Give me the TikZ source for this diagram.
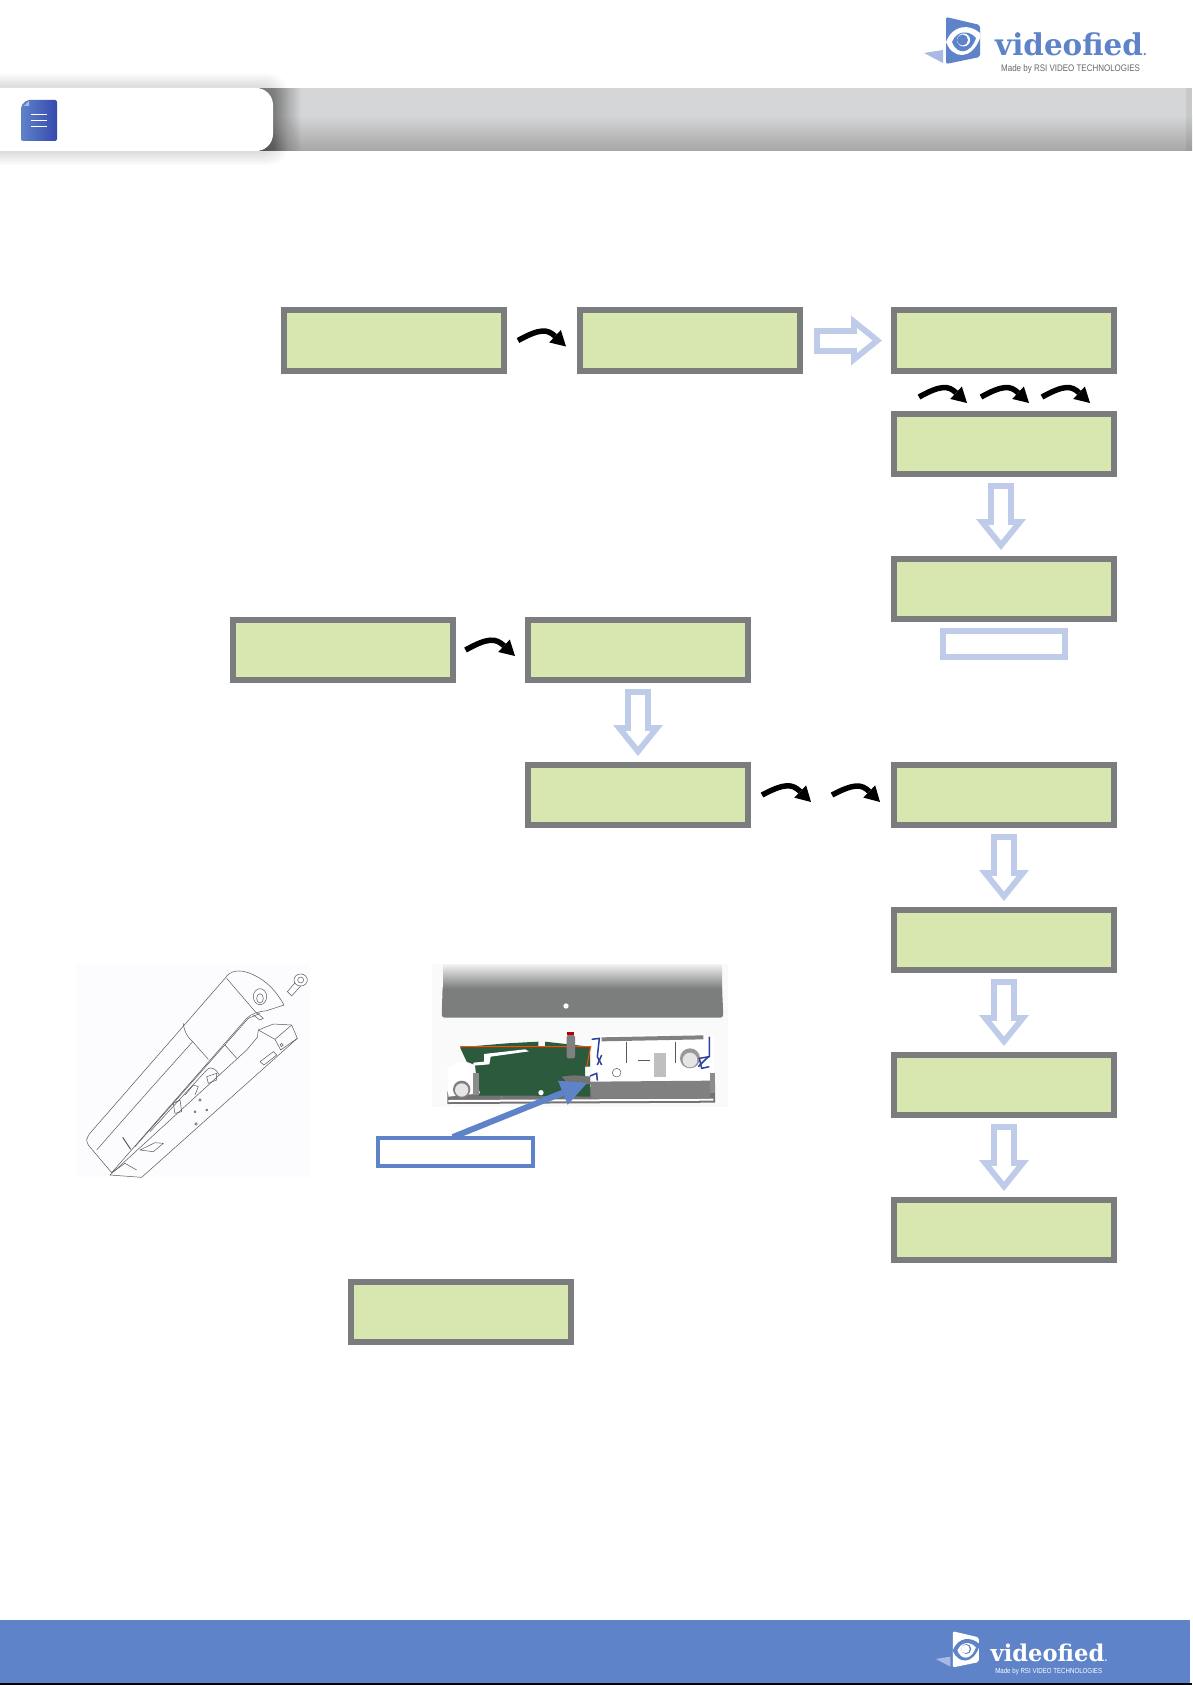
\documentclass[tikz,border=0pt]{standalone}
\usepackage{fontspec}
\usetikzlibrary{arrows.meta}
\newfontfamily\logofont{DejaVu Serif}
\newfontfamily\tagfont{Liberation Sans}
\definecolor{lcdgreen}{HTML}{D8E7B0}
\definecolor{lcdgray}{HTML}{7B7C7D}
\definecolor{flowblue}{HTML}{BFCCE9}
\definecolor{brandblue}{HTML}{5F83C9}
\definecolor{brandlight}{HTML}{A9B9E3}
\definecolor{bandgray}{HTML}{D4D5D7}
\definecolor{banddark}{HTML}{A6A6A6}
\definecolor{coverdark}{HTML}{7C7E7D}
\definecolor{pcbgreen}{HTML}{2B5B3C}
\definecolor{clipblue}{HTML}{2B3F9E}
\tikzset{
  lcd/.style={draw=lcdgray, fill=lcdgreen, line width=6pt, minimum width=220pt, minimum height=60pt},
  bentarrow/.style={line width=5.5pt, black, bend left=36, looseness=1.35, -{Triangle[length=15pt,width=17pt,line width=0pt]}},
  blockouter/.style={flowblue, line width=26pt, -{Triangle[length=31pt,width=50pt,line width=0pt]}},
  blockinner/.style={white, line width=14pt, -{Triangle[length=15.4pt,width=24.8pt,line width=0pt]}},
  sketch/.style={draw=black!65, line width=.5pt, line join=round},
  pics/videologo/.style n args={4}{code={
    \fill[#2] (-21,35) -- (-2,32) -- (-2,45) -- cycle;
    \fill[#1, rounded corners=2pt] (1,-1) -- (35,7) -- (35,39) -- (1,46) -- cycle;
    \fill[#3] (1,24) .. controls (8,6) and (25,6) .. (35,15) -- (35,20) .. controls (27,42) and (8,42) .. (1,24);
    \fill[#1] (7,24) .. controls (12,12) and (24,12) .. (31,20) .. controls (25,37) and (12,37) .. (7,24);
    \fill[#3] (18.5,22) circle (6.5);
    \fill[#1] (17.5,22) circle (5.5);
    \node[anchor=base west, inner sep=0pt, text=#1] (name) at (50,38) {\logofont\bfseries\fontsize{30}{30}\selectfont\scalebox{.98}[1]{videofied{\fontsize{12}{12}\selectfont.}}};
    \node[anchor=base west, inner sep=0pt, text=#4] (tag) at (56,54) {\tagfont\fontsize{9.5}{9.5}\selectfont\scalebox{.84}[1]{Made by RSI VIDEO TECHNOLOGIES}};
  }}
}
\begin{document}
\begin{tikzpicture}[x=1pt, y=-1pt]
\useasboundingbox (0,0) rectangle (1192,1685);
% Header band
\fill[bandgray] (0,88) rectangle (1192,117);
\shade[top color=bandgray, bottom color=banddark] (0,116) rectangle (1192,151);
\fill[black, opacity=.06] (1186,88) rectangle (1192,151);
% Tab with soft shadow
\foreach \r in {14,12,...,2}
  \fill[black, opacity=.02, rounded corners=18pt] (-40,88-\r) rectangle (273+\r,151+\r);
\foreach \r in {1,2,...,28}
  \fill[black, opacity=.012] (260,88) rectangle (273+\r,151);
\fill[white, rounded corners=17pt] (-40,88) rectangle (273,151);
% Document icon
\shade[left color=brandblue, right color=brandblue!70!blue!80!black, rounded corners=2pt] (21,106) -- (27,100) -- (57,100) -- (57,141) -- (21,141) -- cycle;
\fill[brandlight] (24,106) -- (29,101) -- (29,106) -- cycle;
\foreach \y in {114,120,126}
  \draw[white, line width=.8pt] (31,\y) -- (47,\y);
% Logos
\pic (headlogo) at (945,18) {videologo={brandblue}{brandlight}{white}{black!60}};
\fill[brandblue] (0,1620) rectangle (1190,1683);
\fill[black] (0,1683) rectangle (1192,1685);
\pic[scale=.77, transform shape] (footlogo) at (952,1632) {videologo={white}{brandlight}{brandblue}{white}};
% Display boxes
\node[lcd] (boxA) at (394,340.5) {};
\node[lcd] (boxB) at (690,340.5) {};
\node[lcd] (boxC) at (1004,340.5) {};
\node[lcd] (boxD) at (1004,444) {};
\node[lcd] (boxE) at (1004,589) {};
\node[lcd] (boxF) at (342.5,650) {};
\node[lcd] (boxG) at (638,650) {};
\node[lcd] (boxH) at (638,795) {};
\node[lcd] (boxI) at (1004,795) {};
\node[lcd] (boxJ) at (1004,940) {};
\node[lcd] (boxK) at (1004,1085) {};
\node[lcd] (boxL) at (1004,1230) {};
\node[lcd] (boxM) at (461,1312) {};
% Key box under the display
\node[draw=flowblue, fill=white, line width=6pt, minimum width=122pt, minimum height=26pt] (keybox) at (1004,644) {};
% Block arrows
\draw[blockouter, shorten <=11pt, shorten >=9pt] (boxB) -- (boxC);
\draw[blockinner, shorten <=17pt, shorten >=18.6pt] (boxB) -- (boxC);
\draw[blockouter, shorten <=6pt, shorten >=6pt] ([xshift=-3pt]boxD.south) -- ([xshift=-3pt]boxE.north);
\draw[blockinner, shorten <=12pt, shorten >=15.6pt] ([xshift=-3pt]boxD.south) -- ([xshift=-3pt]boxE.north);
\foreach \from/\to in {boxG/boxH, boxI/boxJ, boxJ/boxK, boxK/boxL} {
  \draw[blockouter, shorten <=6pt, shorten >=6pt] (\from) -- (\to);
  \draw[blockinner, shorten <=12pt, shorten >=15.6pt] (\from) -- (\to);
}
% Bent arrows
\draw[bentarrow] ([xshift=11pt]boxA.east) to ([xshift=-11pt,yshift=-6pt]boxB.west);
\draw[bentarrow] ([xshift=10pt]boxF.east) to ([xshift=-10pt,yshift=-6pt]boxG.west);
\coordinate (gapL) at (811,802);
\coordinate (gapR) at (832,795);
\draw[bentarrow] ([xshift=11pt]boxH.east) to (gapL);
\draw[bentarrow] (gapR) to ([xshift=-11pt,yshift=-7pt]boxI.west);
\foreach \i/\x in {1/919, 2/981, 3/1042} {
  \coordinate (keyS\i) at (\x,397);
  \coordinate (keyE\i) at (\x+48,403);
  \draw[bentarrow] (keyS\i) to (keyE\i);
}
% Sensor line drawing
\fill[black!2!blue!1!white] (76,964) rectangle (310,1177);
\begin{scope}[shift={(60,950)}, scale=1/3]
\draw[sketch] (155,668) -- (85,585) .. controls (78,570) .. (88,552) -- (495,85) .. controls (510,60) and (540,58) .. (570,70) .. controls (620,90) and (650,125) .. (672,165) -- (620,182) .. controls (595,185) and (575,190) .. (560,205) -- cycle;
\draw[sketch] (500,85) -- (590,190);
\draw[sketch] (370,220) .. controls (372,245) and (385,265) .. (398,275) -- (445,328);
\draw[sketch] (110,600) .. controls (180,520) and (250,440) .. (398,275);
\draw[sketch] (225,590) -- (565,205) -- (600,190);
\draw[sketch] (270,545) -- (440,360) .. controls (455,345) and (470,360) .. (478,375);
\draw[sketch] (495,285) -- (530,325);
\draw[sketch] (150,675) -- (245,682) -- (712,265) -- (695,225) -- (640,222) -- (595,240) -- (592,262) -- (560,300) -- (150,675);
\draw[sketch] (595,240) -- (645,268) -- (695,225);
\draw[sketch] (645,268) -- (662,300) -- (712,265);
\draw[sketch] (600,335) -- (640,305) -- (650,315) -- (612,345) -- cycle;
\draw[sketch] (340,460) -- (360,450) -- (365,485) -- (345,490) -- cycle;
\draw[sketch] (375,435) -- (400,405) -- (415,410) -- (405,435);
\draw[sketch] (440,380) -- (470,370) -- (470,390) -- (445,400) -- cycle;
\draw[sketch] (240,600) -- (285,578) -- (310,580) -- (280,605) -- cycle;
\draw[sketch] (160,665) -- (195,640) -- (230,660);
\draw[sketch, line width=1pt] (188,562) -- (212,598);
\draw[sketch] (420,450) circle (4);
\draw[sketch] (405,485) circle (3);
\draw[sketch] (440,480) circle (3);
\draw[sketch] (408,522) circle (4);
\draw[sketch] (665,285) circle (5);
% Screw and hole
\draw[sketch] (682,125) -- (708,95) -- (722,108) -- (695,138) -- cycle;
\draw[sketch, fill=white] (722,90) ellipse (20 and 18);
\draw[sketch] (722,90) circle (9);
\draw[sketch] (600,140) ellipse (20 and 24);
\draw[sketch] (600,145) ellipse (10 and 14);
\draw[sketch] (590,188) -- (610,205) -- (600,210) -- (580,195);
\end{scope}
% Sensor with cover removed
\fill[black!2] (432,964) rectangle (728,1107);
\begin{scope}[shift={(360,950)}, scale=1/3]
\fill[coverdark, rounded corners=3pt] (248,105) -- (245,203) -- (1090,203) -- (1086,105) -- cycle;
\shade[top color=black!5, bottom color=coverdark] (250,42) rectangle (1086,115);
\fill[white] (618,168) circle (8);
% Base
\fill[black!55] (262,425) -- (262,462) -- (1065,458) -- (1065,400) -- cycle;
\fill[white] (265,450) -- (1060,446) -- (1060,452) -- (265,456) -- cycle;
\fill[pcbgreen] (300,292) -- (440,280) -- (535,275) -- (535,290) -- (555,290) -- (555,275) -- (690,290) -- (690,350) -- (675,350) -- (675,380) -- (690,380) -- (690,440) -- (520,437) -- (355,437) -- (345,345) -- (320,335) -- cycle;
\fill[white] (372,312) -- (495,298) -- (507,304) -- (392,320) -- (388,343) -- (340,347) -- (340,338) -- (372,335) -- cycle;
\draw[orange!60!red, line width=1pt] (300,290) -- (692,290) -- (680,350);
\fill[black!50, rounded corners=2pt] (620,255) rectangle (645,325);
\fill[red!70!black] (620,246) rectangle (642,255);
% Left post
\fill[white] (262,355) -- (295,335) -- (320,340) -- (335,360) -- (345,380) -- (360,430) -- (265,440) -- cycle;
\fill[black!50] (305,418) circle (26);
\fill[black!10] (305,420) circle (20);
\fill[black!45] (340,370) rectangle (358,435);
% Right compartment
\fill[white] (695,255) rectangle (1062,400);
\fill[black!50] (725,262) -- (1030,256) -- (1030,268) -- (725,274) -- cycle;
\fill[black!50] (690,395) -- (1050,392) -- (1050,446) -- (695,446) -- cycle;
\fill[black!55] (605,380) .. controls (640,375) .. (690,380) -- (690,402) -- (625,402) -- cycle;
\fill[black!45] (1050,370) rectangle (1066,430);
\fill[black!25] (882,310) rectangle (918,380);
\draw[sketch] (835,330) -- (870,330);
\draw[sketch] (800,275) -- (800,340);
\draw[sketch] (945,275) -- (945,340);
\draw[sketch] (770,368) circle (13);
\fill[black!40] (990,325) circle (30);
\fill[black!10] (990,330) circle (22);
\fill[black!50] (425,442) circle (5);
\fill[white] (543,428) circle (8);
% Blue clips
\draw[clipblue, line width=1.5pt] (695,268) -- (718,265) -- (712,320) -- (725,345);
\draw[clipblue, line width=1.5pt] (725,315) -- (712,345);
\draw[clipblue, line width=1.5pt] (690,378) -- (710,370) -- (712,392);
\draw[clipblue, line width=1.5pt] (1048,260) -- (1048,320) -- (1018,325) -- (1025,355) -- (1048,350);
\draw[clipblue, line width=1.5pt] (1015,350) -- (1045,320);
\end{scope}
% Pointer to the slot
\node[draw=brandblue, fill=white, line width=4pt, minimum width=155pt, minimum height=28pt] (slotlabel) at (455.5,1152) {};
\coordinate (slot) at (587,1083);
\draw[brandblue, line width=6pt, shorten <=-3pt, -{Triangle[length=26pt,width=26pt,line width=0pt]}] (slotlabel.north) -- (slot);
\end{tikzpicture}
\end{document}
